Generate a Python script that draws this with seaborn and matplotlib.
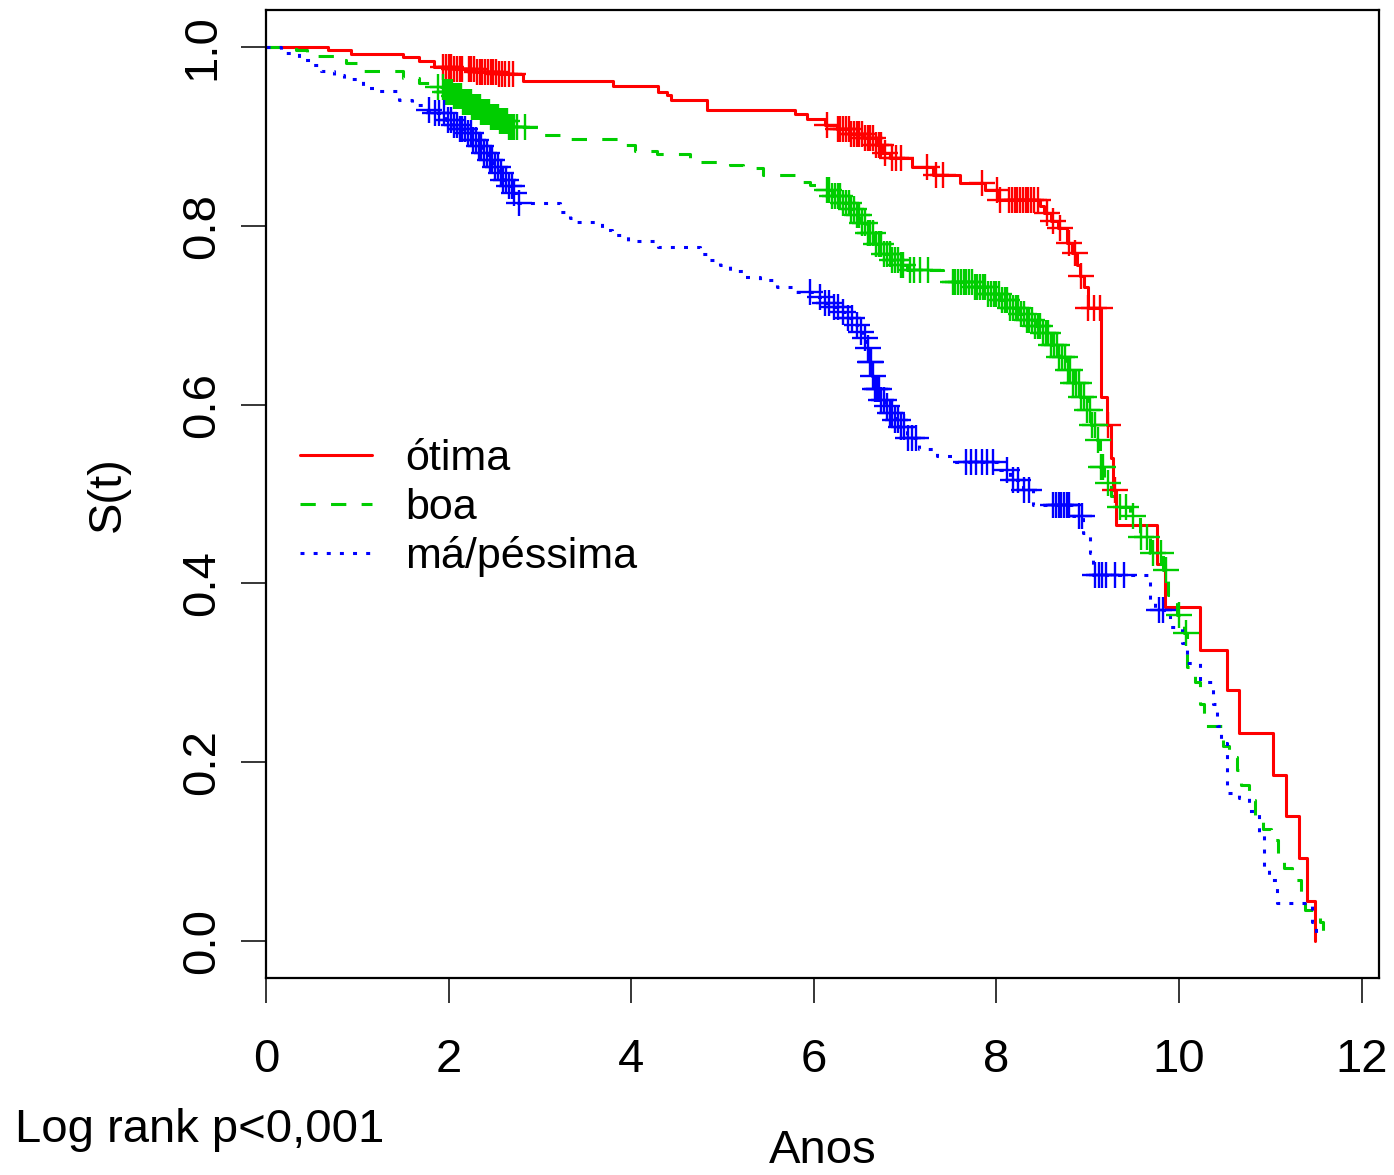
import numpy as np
import pandas as pd
import matplotlib
matplotlib.use("Agg")
import matplotlib.pyplot as plt
from matplotlib.lines import Line2D
import seaborn as sns

# ---------------- data ----------------
group_labels = ["ótima", "boa", "má/péssima"]

otima_t = [0.00, 0.68, 0.93, 1.50, 1.68, 1.84, 2.05, 2.30, 2.55, 2.82, 3.80, 4.29, 4.39, 4.44, 4.83,
           5.79, 5.92, 6.12, 6.25, 6.40, 6.55, 6.68, 6.75, 6.83, 7.08, 7.30, 7.60, 7.88, 8.02, 8.48,
           8.52, 8.60, 8.67, 8.77, 8.83, 8.88, 8.92, 8.96, 9.00, 9.15, 9.21, 9.25, 9.28, 9.31, 9.76,
           9.85, 10.23, 10.52, 10.66, 11.03, 11.17, 11.31, 11.40, 11.49]
otima_s = [1.000, 0.997, 0.992, 0.989, 0.984, 0.978, 0.975, 0.972, 0.970, 0.962, 0.956, 0.950, 0.946,
           0.941, 0.930, 0.925, 0.919, 0.913, 0.908, 0.903, 0.898, 0.890, 0.882, 0.876, 0.866, 0.857,
           0.848, 0.840, 0.829, 0.822, 0.814, 0.805, 0.797, 0.781, 0.770, 0.756, 0.744, 0.732, 0.708,
           0.609, 0.577, 0.540, 0.504, 0.465, 0.422, 0.374, 0.326, 0.281, 0.233, 0.186, 0.140, 0.093,
           0.045, 0.000]
otima_cens = [1.94, 1.97, 2.00, 2.03, 2.06, 2.09, 2.12, 2.15, 2.22, 2.25, 2.28, 2.31, 2.34, 2.37, 2.40,
              2.43, 2.46, 2.49, 2.52, 2.55, 2.58, 2.62, 2.66, 2.70,
              6.14, 6.26, 6.29, 6.32, 6.35, 6.38, 6.41, 6.44, 6.47, 6.50, 6.53, 6.56, 6.59, 6.62, 6.65,
              6.68, 6.71, 6.74, 6.78, 6.86, 6.90, 6.96, 7.24, 7.34, 7.41, 7.84, 8.01, 8.04, 8.14, 8.17,
              8.20, 8.23, 8.26, 8.29, 8.32, 8.35, 8.38, 8.41, 8.45, 8.55, 8.62, 8.70, 8.80, 8.86, 8.93,
              9.00, 9.07, 9.13, 9.22, 9.30]

boa_t = [0.00, 0.33, 0.45, 0.80, 0.88, 1.00, 1.06, 1.50, 1.68, 1.80, 1.95, 2.05, 2.15, 2.25, 2.35,
         2.45, 2.55, 2.65, 3.03, 3.33, 3.85, 4.04, 4.28, 4.64, 5.08, 5.22, 5.44, 5.81, 5.96, 6.10,
         6.20, 6.30, 6.40, 6.47, 6.52, 6.58, 6.67, 6.76, 6.85, 6.94, 7.02, 7.41, 7.52, 7.74, 7.90,
         8.04, 8.15, 8.25, 8.33, 8.42, 8.51, 8.60, 8.69, 8.76, 8.84, 8.92, 8.99, 9.04, 9.10, 9.13,
         9.18, 9.25, 9.35, 9.46, 9.57, 9.68, 9.82, 9.88, 9.98, 10.05, 10.09, 10.18, 10.23, 10.27,
         10.48, 10.55, 10.63, 10.68, 10.77, 10.83, 10.92, 11.01, 11.08, 11.15, 11.24, 11.34, 11.38,
         11.54, 11.58, 11.73]
boa_s = [1.000, 0.997, 0.990, 0.985, 0.982, 0.979, 0.973, 0.965, 0.960, 0.955, 0.950, 0.945, 0.939,
         0.933, 0.927, 0.922, 0.917, 0.911, 0.902, 0.897, 0.890, 0.884, 0.880, 0.871, 0.868, 0.865,
         0.857, 0.849, 0.846, 0.840, 0.833, 0.826, 0.819, 0.812, 0.803, 0.792, 0.780, 0.769, 0.762,
         0.756, 0.751, 0.745, 0.737, 0.732, 0.724, 0.717, 0.708, 0.701, 0.695, 0.688, 0.680, 0.667,
         0.653, 0.639, 0.624, 0.609, 0.594, 0.577, 0.560, 0.530, 0.512, 0.498, 0.486, 0.475, 0.452,
         0.434, 0.415, 0.387, 0.365, 0.344, 0.307, 0.290, 0.265, 0.240, 0.218, 0.206, 0.191, 0.174,
         0.158, 0.139, 0.125, 0.113, 0.096, 0.082, 0.068, 0.050, 0.035, 0.021, 0.011, 0.011]
boa_cens = [1.88, 1.94, 1.96, 1.98, 2.00, 2.02, 2.04, 2.06, 2.08, 2.10, 2.12, 2.14, 2.16, 2.18, 2.20,
            2.22, 2.24, 2.26, 2.28, 2.30, 2.32, 2.34, 2.36, 2.38, 2.40, 2.42, 2.44, 2.46, 2.48, 2.50,
            2.52, 2.54, 2.56, 2.58, 2.60, 2.62, 2.64, 2.66, 2.68, 2.70, 2.72, 2.75, 2.84,
            6.14, 6.17, 6.20, 6.23, 6.26, 6.29, 6.32, 6.35, 6.38, 6.41, 6.44, 6.47, 6.50, 6.53, 6.56,
            6.59, 6.62, 6.65, 6.68, 6.71, 6.74, 6.77, 6.80, 6.83, 6.86, 6.89, 6.92, 6.95, 6.98, 7.05,
            7.10, 7.16, 7.25,
            7.52, 7.55, 7.58, 7.61, 7.64, 7.67, 7.70, 7.73, 7.76, 7.79, 7.82, 7.85, 7.88, 7.91, 7.94,
            7.97, 8.00, 8.03, 8.06, 8.09, 8.12, 8.15, 8.18, 8.21, 8.24, 8.27, 8.30, 8.33, 8.36, 8.39,
            8.42, 8.45, 8.48, 8.51, 8.54, 8.57, 8.60, 8.63, 8.66, 8.69, 8.72, 8.75, 8.78, 8.81, 8.84,
            8.87, 8.90, 8.93, 8.96, 8.99, 9.02, 9.05, 9.08, 9.11, 9.14, 9.17,
            9.22, 9.35, 9.42, 9.50, 9.58, 9.65, 9.72, 9.80, 9.86, 10.00, 10.08]

ma_t = [0.00, 0.16, 0.36, 0.51, 0.60, 0.75, 0.85, 1.06, 1.20, 1.46, 1.60, 1.75, 1.85, 1.97, 2.05,
        2.12, 2.19, 2.25, 2.32, 2.38, 2.44, 2.50, 2.55, 2.60, 2.65, 2.70, 2.76, 3.22, 3.33, 3.40,
        3.68, 3.79, 3.96, 4.29, 4.75, 4.85, 4.97, 5.08, 5.22, 5.41, 5.60, 5.81, 6.00, 6.10, 6.20,
        6.28, 6.36, 6.43, 6.49, 6.54, 6.58, 6.61, 6.64, 6.67, 6.72, 6.78, 6.83, 6.89, 6.94, 7.02,
        7.15, 7.35, 7.52, 8.04, 8.15, 8.29, 8.40, 8.84, 8.95, 9.02, 9.06, 9.68, 9.74, 9.90, 10.03,
        10.09, 10.23, 10.37, 10.42, 10.46, 10.52, 10.66, 10.77, 10.88, 10.93, 10.98, 11.07, 11.46,
        11.50]
ma_s = [1.000, 0.993, 0.986, 0.980, 0.973, 0.969, 0.964, 0.954, 0.951, 0.941, 0.935, 0.930, 0.926,
        0.918, 0.913, 0.908, 0.904, 0.896, 0.889, 0.881, 0.874, 0.866, 0.859, 0.851, 0.844, 0.837,
        0.825, 0.815, 0.809, 0.804, 0.795, 0.790, 0.783, 0.776, 0.769, 0.762, 0.756, 0.750, 0.743,
        0.739, 0.732, 0.726, 0.720, 0.714, 0.709, 0.704, 0.697, 0.689, 0.681, 0.674, 0.663, 0.648,
        0.632, 0.617, 0.605, 0.598, 0.591, 0.583, 0.575, 0.563, 0.550, 0.543, 0.536, 0.527, 0.516,
        0.504, 0.488, 0.475, 0.456, 0.434, 0.409, 0.380, 0.370, 0.351, 0.333, 0.311, 0.290, 0.265,
        0.240, 0.222, 0.166, 0.160, 0.145, 0.121, 0.083, 0.068, 0.043, 0.021, 0.000]
ma_cens = [1.78, 1.85, 1.90, 1.95, 1.99, 2.03, 2.06, 2.09, 2.12, 2.15, 2.18, 2.21, 2.24, 2.27, 2.30,
           2.33, 2.36, 2.39, 2.42, 2.45, 2.48, 2.51, 2.54, 2.57, 2.60, 2.63, 2.66, 2.69, 2.72, 2.77,
           5.96, 6.07, 6.12, 6.17, 6.22, 6.27, 6.32, 6.37, 6.42, 6.47, 6.52, 6.56, 6.59, 6.61, 6.63,
           6.65, 6.67, 6.69, 6.71, 6.74, 6.77, 6.80, 6.83, 6.86, 6.89, 6.92, 6.95, 6.99, 7.03, 7.08,
           7.12, 7.67, 7.72, 7.78, 7.84, 7.90, 7.96, 8.12, 8.18, 8.24, 8.30, 8.36, 8.62, 8.65, 8.68,
           8.71, 8.74, 8.77, 8.80, 8.90, 8.94, 9.08, 9.12, 9.16, 9.20, 9.30, 9.40, 9.78, 9.82]

x_ticks = [0, 2, 4, 6, 8, 10, 12]
y_ticks = [0.0, 0.2, 0.4, 0.6, 0.8, 1.0]
y_ticklabels = ["0.0", "0.2", "0.4", "0.6", "0.8", "1.0"]

# ---------------- style ----------------
sns.set_theme(style="white")
plt.rcParams["font.family"] = ["Liberation Sans", "DejaVu Sans"]
plt.rcParams["text.color"] = "black"
plt.rcParams["axes.labelcolor"] = "black"
FS = 34
FS_LEG = 31

colors = ["#FF0000", "#00CD00", "#0000FF"]
styles = ["-", (0, (5, 5)), (0, (1.3, 3))]
LW = 2.2

fig = plt.figure(figsize=(13.94, 11.75), dpi=100)
ax = fig.add_axes([266 / 1394, (1175 - 978) / 1175, (1379 - 266) / 1394, (978 - 10) / 1175])


def surv_at(times, surv, tc):
    idx = np.searchsorted(np.asarray(times), np.asarray(tc), side="right") - 1
    return np.asarray(surv)[idx]


series = [(otima_t, otima_s, otima_cens), (boa_t, boa_s, boa_cens), (ma_t, ma_s, ma_cens)]
for (t, s, c), col, ls in zip(series, colors, styles):
    df = pd.DataFrame({"t": t, "s": s})
    sns.lineplot(data=df, x="t", y="s", ax=ax, color=col, lw=LW, estimator=None, sort=False,
                 drawstyle="steps-post")
    ax.lines[-1].set_linestyle(ls)
    dc = pd.DataFrame({"t": c, "s": surv_at(t, s, c)})
    sns.scatterplot(data=dc, x="t", y="s", ax=ax, marker="+", s=330, color=col, linewidth=1.7,
                    zorder=3)

ax.set_xlim(0, 12.19)
ax.set_ylim(-0.0414, 1.0414)
ax.set_xticks(x_ticks)
ax.set_xticklabels([str(v) for v in x_ticks])
ax.set_yticks(y_ticks)
ax.set_yticklabels(y_ticklabels)
for lab in ax.get_yticklabels():
    lab.set_rotation(90)
    lab.set_va("center")
ax.tick_params(axis="both", which="major", length=18, width=1.1, color="black",
               labelsize=FS, labelcolor="black", direction="out", bottom=True, left=True)
ax.tick_params(axis="x", pad=25)
ax.tick_params(axis="y", pad=12)
for sp in ax.spines.values():
    sp.set_color("black")
    sp.set_linewidth(1.6)

ax.set_xlabel("Anos", fontsize=FS, color="black")
ax.xaxis.set_label_coords(0.5, -0.156)
ax.set_ylabel("S(t)", fontsize=FS, color="black")
ax.yaxis.set_label_coords(-0.122, 0.5)

handles = [Line2D([0], [0], color=col, lw=LW, linestyle=ls) for col, ls in zip(colors, styles)]
ax.legend(handles, group_labels, loc="upper left", bbox_to_anchor=(300 / 1394, 1 - 439 / 1175),
          bbox_transform=fig.transFigure, frameon=False, fontsize=FS_LEG, handlelength=1.67,
          handletextpad=0.77, labelspacing=0.2, borderpad=0, borderaxespad=0, labelcolor="black")

fig.text(15 / 1394, 1 - 1130 / 1175, "Log rank p<0,001", fontsize=FS, ha="left", va="center",
         color="black")

fig.savefig("out.png", dpi=100, facecolor="white")
